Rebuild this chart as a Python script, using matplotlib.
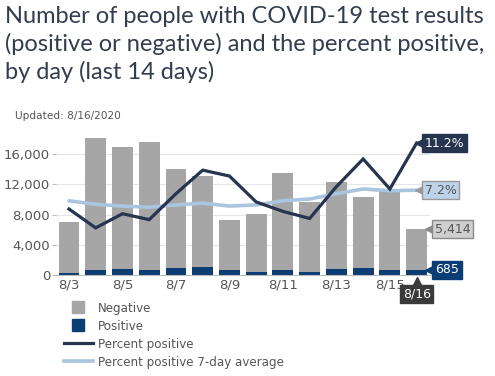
import matplotlib
matplotlib.use("Agg")
import matplotlib.pyplot as plt
from matplotlib.lines import Line2D
from matplotlib.transforms import offset_copy
import numpy as np

days = ["8/3", "8/4", "8/5", "8/6", "8/7", "8/8", "8/9", "8/10",
        "8/11", "8/12", "8/13", "8/14", "8/15", "8/16"]
positive = [300, 660, 800, 670, 970, 1100, 620, 400, 660, 400, 800, 930, 660, 685]
negative = [6680, 17440, 16150, 16930, 13070, 12010, 6660, 7680, 12850, 9310,
            11520, 9400, 10600, 5414]
pct_positive = [5.6, 4.0, 5.2, 4.7, 6.9, 8.9, 8.4, 6.2, 5.4, 4.8, 7.5, 9.85, 7.3, 11.2]
pct_avg7 = [6.3, 6.0, 5.85, 5.75, 5.95, 6.1, 5.85, 5.95, 6.3, 6.45, 6.9, 7.3, 7.15, 7.2]
yticks = [0, 4000, 8000, 12000, 16000]
ytick_labels = ["0", "4,000", "8,000", "12,000", "16,000"]

GRAY = "#a6a6a6"
NAVY = "#0c3c74"
DARK = "#263450"
LIGHT = "#a9c5df"
TXT = "#555555"

W, H = 495, 376
fig = plt.figure(figsize=(W / 100, H / 100), dpi=100)
fig.patch.set_facecolor("white")

ax_left, ax_right, ax_bottom, ax_top = 55.6, 430, 275, 131.7
ax = fig.add_axes([ax_left / W, (H - ax_bottom) / H,
                   (ax_right - ax_left) / W, (ax_bottom - ax_top) / H])
ymax = 19000
ratio = 1562.0

x = np.arange(len(days))
ax.bar(x, positive, width=0.78, color=NAVY, zorder=2)
ax.bar(x, negative, bottom=positive, width=0.78, color=GRAY, zorder=2)
ax.set_xlim(-0.5, len(days) - 0.5)
ax.set_ylim(0, ymax)
ax.set_yticks(yticks)
ax.set_yticklabels(ytick_labels)
ax.set_xticks(x[::2])
ax.set_xticklabels(days[::2])
ax.grid(axis="y", color="#e6e6e6", lw=0.8, zorder=0)
for s in ["top", "right", "left"]:
    ax.spines[s].set_visible(False)
ax.spines["bottom"].set_color("#bbbbbb")
ax.tick_params(axis="y", length=3, color="#bbbbbb", labelsize=9.5, labelcolor=TXT, pad=1)
ax.tick_params(axis="x", length=0, labelsize=9.5, labelcolor=TXT, pad=2.5)

ax2 = ax.twinx()
ax2.set_ylim(0, ymax / ratio)
ax2.axis("off")
ax2.plot(x, pct_avg7, color=LIGHT, lw=2.6, zorder=3, solid_capstyle="round")
ax2.plot(x, pct_positive, color=DARK, lw=2.3, zorder=4, solid_joinstyle="miter")

def callout(axis, xv, yv, text, fc, ec, tc, dx):
    tri = offset_copy(axis.transData, fig=fig, x=dx + 3, y=0, units="dots")
    axis.plot([xv], [yv], marker="<", ms=7, color=ec, mec=ec, transform=tri,
              zorder=6, clip_on=False)
    axis.annotate(text, xy=(xv, yv), xytext=(dx + 8, 0), textcoords="offset pixels",
                  ha="left", va="center", fontsize=9, color=tc, zorder=7,
                  annotation_clip=False,
                  bbox=dict(boxstyle="square,pad=0.22", fc=fc, ec=ec, lw=1))

last = len(days) - 1
callout(ax2, last, pct_positive[-1], f"{pct_positive[-1]:.1f}%", DARK, DARK, "white", 0)
callout(ax2, last, pct_avg7[-1], f"{pct_avg7[-1]:.1f}%", "#bcd3ea", "#999999", TXT, 0)
callout(ax, last + 0.39, positive[-1] + negative[-1], f"{negative[-1]:,}", "#cfcfcf", "#8a8a8a", TXT, 0)
callout(ax, last + 0.39, positive[-1], f"{positive[-1]:,}", NAVY, NAVY, "white", 0)

# date callout below axis
ax.annotate(days[-1], xy=(last, 0), xytext=(0, -19), textcoords="offset pixels",
            ha="center", va="center", fontsize=9, color="white", zorder=7,
            annotation_clip=False,
            bbox=dict(boxstyle="square,pad=0.22", fc="#3a3a3a", ec="#3a3a3a"))
tri = offset_copy(ax.transData, fig=fig, x=0, y=-6, units="dots")
ax.plot([last], [0], marker="^", ms=6, color="#3a3a3a", transform=tri, zorder=6, clip_on=False)

# title and subtitle
fig.text(5 / W, 1 - 6 / H,
         "Number of people with COVID-19 test results\n(positive or negative) and the percent positive,\nby day (last 14 days)",
         ha="left", va="top", fontsize=17, family="Lato", color="#333d4e", linespacing=1.32)
fig.text(15 / W, 1 - 116 / H, "Updated: 8/16/2020", ha="left", va="center",
         fontsize=7.6, color=TXT)

handles = [
    Line2D([], [], marker="s", ls="none", ms=9, color=GRAY),
    Line2D([], [], marker="s", ls="none", ms=9, color=NAVY),
    Line2D([], [], color=DARK, lw=2.3),
    Line2D([], [], color=LIGHT, lw=2.6),
]
labels = ["Negative", "Positive", "Percent positive", "Percent positive 7-day average"]
fig.legend(handles, labels, loc="upper left", bbox_to_anchor=(58 / W, 1 - 296 / H),
           frameon=False, fontsize=8.6, labelcolor=TXT, handlelength=2.4,
           handleheight=1.0, handletextpad=0.45, labelspacing=0.42, borderpad=0)

fig.savefig("out.png", dpi=100, facecolor="white")
